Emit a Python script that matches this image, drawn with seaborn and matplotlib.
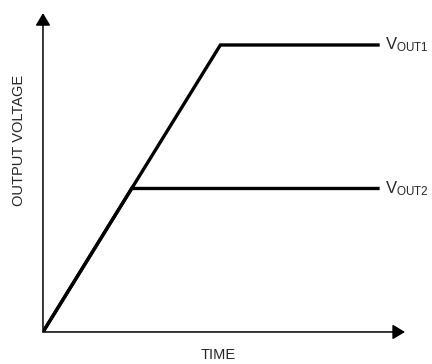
import pandas as pd
import seaborn as sns
import matplotlib.pyplot as plt

# ramp-up of the two outputs (arbitrary units)
time_1 = [0, 4.9, 9.3]
vout_1 = [0, 9.0, 9.0]
time_2 = [0, 2.45, 9.3]
vout_2 = [0, 4.5, 4.5]
labels = ['V_{OUT1}', 'V_{OUT2}']

sns.set_style('white')
plt.rcParams['font.family'] = ['Liberation Sans', 'DejaVu Sans']
plt.rcParams['mathtext.fontset'] = 'custom'
plt.rcParams['mathtext.rm'] = 'Liberation Sans'
plt.rcParams['mathtext.it'] = 'Liberation Sans'

df1 = pd.DataFrame({'t': time_1, 'v': vout_1})
df2 = pd.DataFrame({'t': time_2, 'v': vout_2})

fig = plt.figure(figsize=(4.32, 3.64), dpi=100)
ax = fig.add_axes([0.0995, 0.088, 0.838, 0.876])

sns.lineplot(data=df1, x='t', y='v', color='black', linewidth=2.4, ax=ax,
             sort=False, solid_joinstyle='miter', solid_capstyle='butt')
sns.lineplot(data=df2, x='t', y='v', color='black', linewidth=2.4, ax=ax,
             sort=False, solid_joinstyle='miter', solid_capstyle='butt')

ax.set_xlim(0, 10)
ax.set_ylim(0, 10)
ax.axis('off')

# axes with arrow heads
arrow = dict(arrowstyle='-|>,head_length=0.75,head_width=0.45', color='black',
             lw=1.1, mutation_scale=10, shrinkA=0, shrinkB=0)
ax.annotate('', xy=(10, 0), xytext=(0, 0), arrowprops=arrow, annotation_clip=False)
ax.annotate('', xy=(0, 10), xytext=(0, 0), arrowprops=arrow, annotation_clip=False)

for lab, lvl in zip(labels, [vout_1[-1], vout_2[-1]]):
    ax.text(9.45, lvl, r'$\mathregular{' + lab + '}$', fontsize=12,
            va='center', ha='left', clip_on=False)

fig.text(0.044, 0.613, 'OUTPUT VOLTAGE', rotation=90, fontsize=10.5,
         ha='center', va='center')
fig.text(0.505, 0.024, 'TIME', fontsize=10.5, ha='center', va='center')

plt.savefig('out.png', dpi=100)
